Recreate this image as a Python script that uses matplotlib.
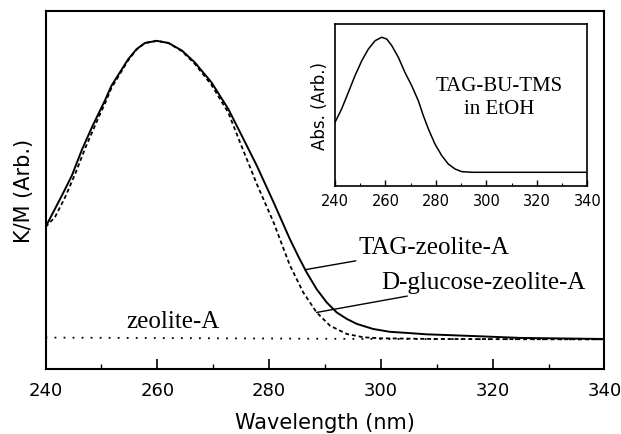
import numpy as np
import matplotlib
matplotlib.use("Agg")
import matplotlib.pyplot as plt
from matplotlib.ticker import MultipleLocator, NullLocator

# main panel: K/M spectra (arb. units)
wl_tag = [240, 242.9, 244.7, 246.5, 248.3, 250.6, 251.8, 254.8, 256.3, 257.8, 259.9,
          262.0, 264.4, 266.7, 269.7, 272.7, 275.1, 277.8, 280.8, 283.7, 285.2,
          286.7, 288.5, 290.3, 292.1, 293.9, 295.7, 298.6, 301.6, 304.6, 308.2,
          311.8, 317.7, 325, 340]
km_tag = [0.397, 0.484, 0.54, 0.612, 0.675, 0.749, 0.791, 0.865, 0.893, 0.91, 0.916,
          0.91, 0.889, 0.856, 0.8, 0.726, 0.652, 0.568, 0.466, 0.364, 0.316,
          0.271, 0.224, 0.187, 0.159, 0.141, 0.127, 0.113, 0.105, 0.102, 0.098,
          0.096, 0.0925, 0.088, 0.085]

wl_glu = [240, 241.7, 243.5, 245.3, 247.1, 248.3, 249.7, 250.6, 251.8, 254.8, 256.3,
          257.8, 259.9, 262.0, 264.4, 266.7, 269.7, 272.7, 274.8, 277.8, 280.8,
          282.5, 283.7, 286.1, 288.5, 290.9, 293.9, 296.9, 299.8, 310, 340]
km_glu = [0.397, 0.425, 0.48, 0.545, 0.617, 0.66, 0.71, 0.74, 0.785, 0.862, 0.892,
          0.91, 0.916, 0.91, 0.887, 0.852, 0.793, 0.716, 0.633, 0.517, 0.41,
          0.34, 0.291, 0.215, 0.159, 0.122, 0.099, 0.0897, 0.087, 0.085, 0.084]

wl_zeo = [240, 270, 300, 340]
km_zeo = [0.089, 0.087, 0.085, 0.084]

# inset: TAG-BU-TMS in EtOH absorbance
wl_ins = [240, 242.6, 245.3, 247.9, 250.6, 253.2, 255.9, 258.5, 260.5, 262.5, 265.1,
          267.7, 270.4, 273.0, 275.0, 277.0, 279.6, 282.3, 284.9, 287.6, 290.2,
          294.2, 340]
abs_ins = [0.392, 0.474, 0.578, 0.68, 0.773, 0.845, 0.897, 0.918, 0.907, 0.866,
           0.794, 0.701, 0.618, 0.526, 0.433, 0.351, 0.258, 0.186, 0.134, 0.103,
           0.087, 0.083, 0.083]

xticks = [240, 260, 280, 300, 320, 340]

fig = plt.figure(figsize=(6.21, 4.35), dpi=100)
ax = fig.add_axes([0.0733, 0.1483, 0.9001, 0.8248])

ax.plot(wl_tag, km_tag, color="black", lw=1.4)
ax.plot(wl_glu, km_glu, color="black", lw=1.3, linestyle=(0, (2.2, 1.6)))
ax.plot(wl_zeo, km_zeo, color="black", lw=1.3, linestyle=(0, (1, 4)))

ax.set_xlim(240, 340)
ax.set_ylim(0, 1)
ax.set_xticks(xticks)
ax.xaxis.set_minor_locator(MultipleLocator(10))
ax.yaxis.set_major_locator(NullLocator())
ax.tick_params(axis="x", which="major", direction="in", length=7, width=1.2,
               labelsize=13, pad=8)
ax.tick_params(axis="x", which="minor", direction="in", length=3.5, width=1.0)
for s in ax.spines.values():
    s.set_linewidth(1.5)
ax.set_xlabel("Wavelength (nm)", fontsize=15, labelpad=10)
ax.set_ylabel("K/M (Arb.)", fontsize=15, labelpad=8)

serif = "Liberation Serif"
ax.annotate("TAG-zeolite-A", xy=(286.4, 0.278), xytext=(296.0, 0.341),
            fontsize=18, family=serif, va="center", ha="left",
            arrowprops=dict(arrowstyle="-", lw=1.0, color="black",
                            shrinkA=0, shrinkB=0))
ax.annotate("D-glucose-zeolite-A", xy=(288.5, 0.159), xytext=(300.1, 0.243),
            fontsize=18, family=serif, va="center", ha="left",
            arrowprops=dict(arrowstyle="-", lw=1.0, color="black",
                            shrinkA=0, shrinkB=0))
ax.text(254.4, 0.135, "zeolite-A", fontsize=18, family=serif, va="center", ha="left")

# inset
ins = fig.add_axes([0.5395, 0.5708, 0.4063, 0.3717])
ins.plot(wl_ins, abs_ins, color="black", lw=1.1)
ins.set_xlim(240, 340)
ins.set_ylim(0, 1)
ins.set_xticks(xticks)
ins.xaxis.set_minor_locator(MultipleLocator(10))
ins.yaxis.set_major_locator(NullLocator())
ins.tick_params(axis="x", which="major", direction="in", length=4, width=1.0,
                labelsize=10.5, pad=5)
ins.tick_params(axis="x", which="minor", direction="in", length=2, width=0.8)
for s in ins.spines.values():
    s.set_linewidth(1.2)
ins.set_ylabel("Abs. (Arb.)", fontsize=12, labelpad=4)
ins.text(0.65, 0.55, "TAG-BU-TMS\nin EtOH", transform=ins.transAxes,
         fontsize=15, family=serif, ha="center", va="center", linespacing=1.3)

fig.savefig("out.png", dpi=100)
